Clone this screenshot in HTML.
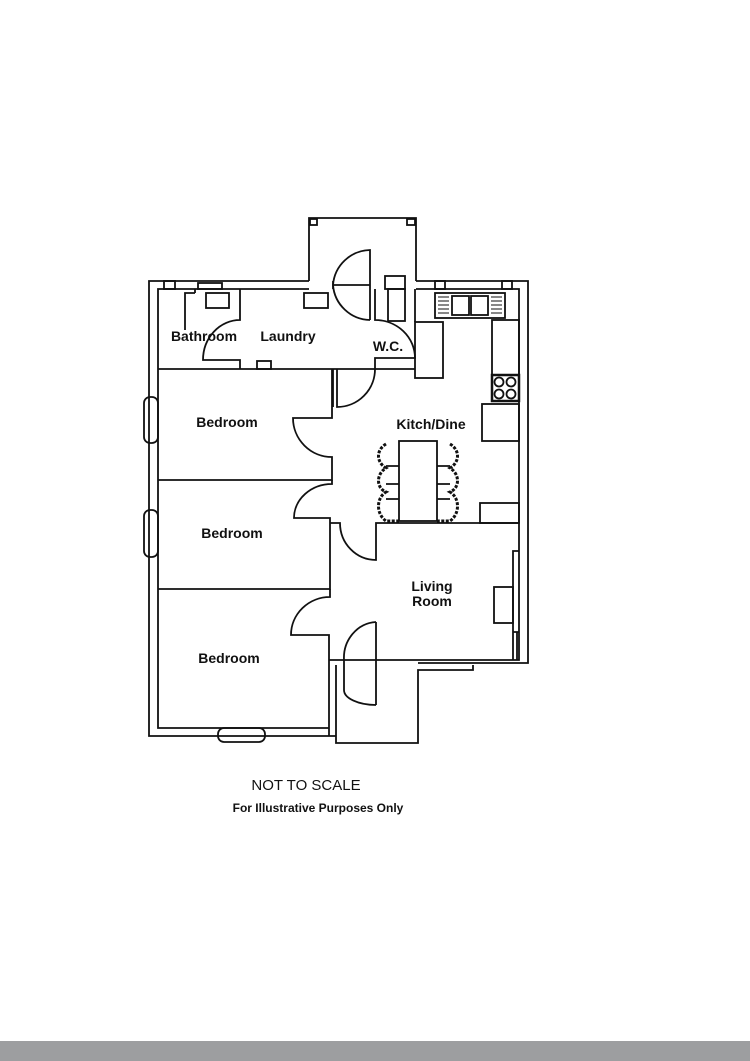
<!DOCTYPE html>
<html><head><meta charset="utf-8"><style>
html,body{margin:0;padding:0;background:#fff;width:750px;height:1061px;overflow:hidden}
svg{display:block}
text{font-family:"Liberation Sans",sans-serif;font-weight:bold;fill:#111}
</style></head><body>
<svg width="750" height="1061" viewBox="0 0 750 1061">
<rect x="0" y="1041" width="750" height="20" fill="#9d9ea0"/>
<g fill="none" stroke="#111" stroke-width="1.8">
<path d="M309,281 H149 V736 H336"/>
<path d="M309,289 H158 V728 H329"/>
<path d="M416,281 H528 V663 H418"/>
<path d="M416,289 H519 V660 H329"/>
<path d="M309,281 V218 H416 V281"/>
<rect x="310" y="219" width="7" height="6"/><rect x="407" y="219" width="8" height="6"/>
<path d="M336,665 V743 H418 V670 H473 V665"/>
<path d="M329,660 V736"/>
<rect x="144" y="397" width="14" height="46" rx="6"/>
<rect x="144" y="510" width="14" height="47" rx="6"/>
<rect x="218" y="728" width="47" height="14" rx="6"/>
<rect x="164" y="281" width="11" height="8"/><rect x="198" y="283" width="24" height="6"/>
<rect x="385" y="276" width="20" height="13"/><rect x="435" y="281" width="10" height="8"/><rect x="502" y="281" width="10" height="8"/>
<path d="M158,369 H415"/>
<path d="M195,289 V293 M195,293 H185 V330"/>
<rect x="206" y="293" width="23" height="15"/>
<rect x="304" y="293" width="24" height="15"/>
<rect x="257" y="361" width="14" height="8"/>
<path d="M240,289 V320 A37,40 0 0 0 203,360 H240 V369"/>
<path d="M333,289 V281"/>
<path d="M370,320 V250 A38,38 0 0 0 333,285 A38,38 0 0 0 370,320"/>
<path d="M333,285 H370"/>
<rect x="388" y="289" width="17" height="32"/>
<path d="M375,289 V320 A40,38 0 0 1 415,358 H375 V369"/>
<path d="M415,289 V322"/>
<rect x="415" y="322" width="28" height="56"/>
<rect x="435" y="293" width="70" height="25"/>
<rect x="452" y="296" width="17" height="19"/><rect x="471" y="296" width="17" height="19"/>
<path d="M438,297 H449 M438,301 H449 M438,305 H449 M438,309 H449 M438,313 H449 M491,297 H502 M491,301 H502 M491,305 H502 M491,309 H502 M491,313 H502" stroke-width="1"/>
<rect x="492" y="320" width="27" height="55"/>
<rect x="492" y="375" width="27" height="26" stroke-width="2.5"/>
<circle cx="499" cy="382" r="4.5"/><circle cx="511" cy="382" r="4.5"/><circle cx="499" cy="394" r="4.5"/><circle cx="511" cy="394" r="4.5"/>
<rect x="482" y="404" width="37" height="37"/>
<rect x="480" y="503" width="39" height="20"/>
<rect x="399" y="441" width="38" height="80"/>
<path d="M399,466 H386 M399,484 H386 M399,499 H386 M437,466 H450 M437,484 H450 M437,499 H450"/>
<path d="M386,444 C376,450 376,462 386,468 C376,474 376,488 386,492 C376,498 376,514 386,521 H399" stroke-width="3" stroke-dasharray="3,1.5"/>
<path d="M450,444 C460,450 460,462 450,468 C460,474 460,488 450,492 C460,498 460,514 450,521 H437" stroke-width="3" stroke-dasharray="3,1.5"/>
<path d="M333,369 V407 M337,369 V407 A38,38 0 0 0 375,369"/>
<path d="M332,369 V418 H293 A39,39 0 0 0 332,457 V480 H158"/>
<path d="M332,480 V484 A38,34 0 0 0 294,518 H330 V589 H158"/>
<path d="M330,523 H340 A36,37 0 0 0 376,560 V523 H519"/>
<path d="M330,589 V597 A39,38 0 0 0 291,635 H329 V660"/>
<path d="M376,622 V705 M376,622 A34,36 0 0 0 344,660 L344,690 A32,15 0 0 0 376,705"/>
<path d="M519,551 H513 V632 H519 M513,632 V660 M517,632 V660"/>
<rect x="494" y="587" width="19" height="36"/>
</g>
<g font-size="14" text-anchor="middle">
<text x="204" y="341">Bathroom</text>
<text x="288" y="341">Laundry</text>
<text x="388" y="351">W.C.</text>
<text x="227" y="427">Bedroom</text>
<text x="431" y="429">Kitch/Dine</text>
<text x="232" y="538">Bedroom</text>
<text x="432" y="591">Living</text>
<text x="432" y="606">Room</text>
<text x="229" y="663">Bedroom</text>
</g>
<text x="306" y="790" font-size="15" text-anchor="middle" style="font-weight:normal">NOT TO SCALE</text>
<text x="318" y="812" font-size="12" text-anchor="middle">For Illustrative Purposes Only</text>
</svg>
</body></html>
